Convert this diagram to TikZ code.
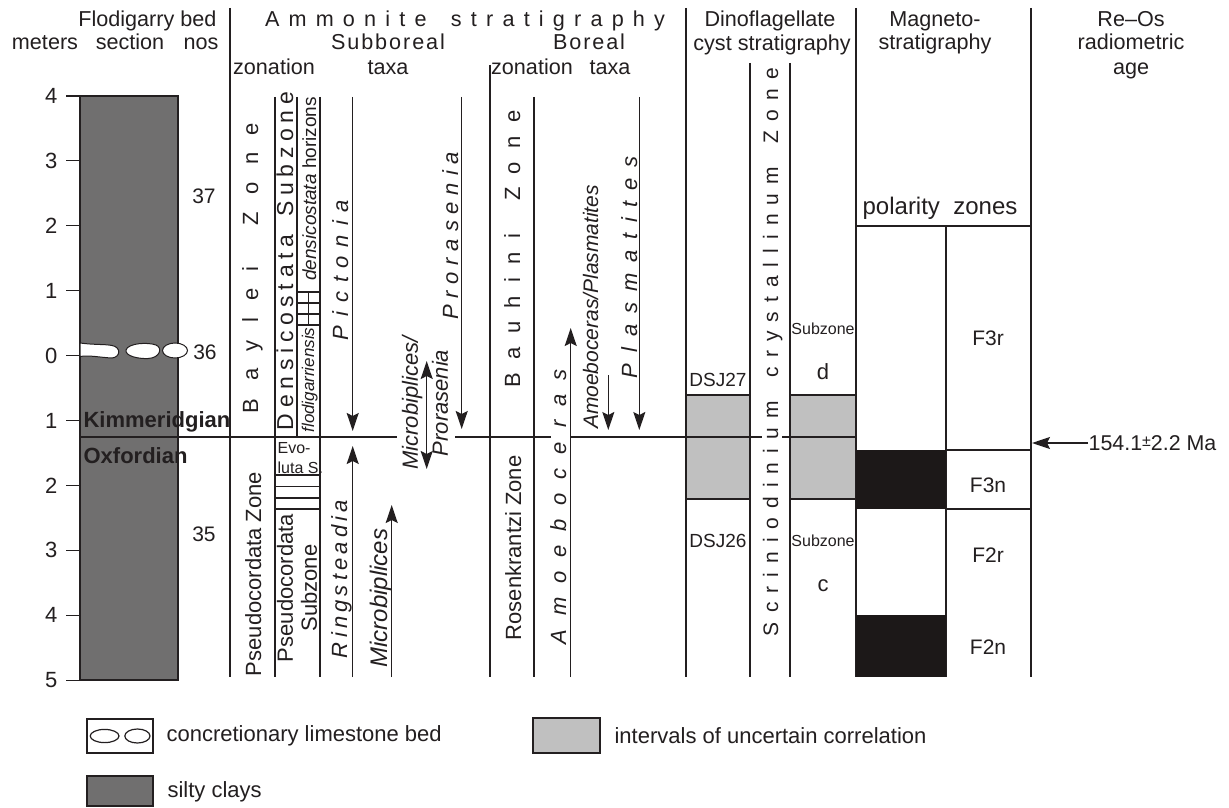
\documentclass[tikz,border=0pt]{standalone}
\usepackage{fontspec}
\setmainfont{Liberation Sans}
\usetikzlibrary{arrows.meta}
\definecolor{lineblack}{RGB}{35,31,32}
\definecolor{claygray}{RGB}{112,111,111}
\definecolor{uncertaingray}{RGB}{192,192,192}
\definecolor{polarblack}{RGB}{28,24,24}

% letters spread evenly over a given length
\ExplSyntaxOn
\NewDocumentCommand{\spaced}{m m}{\hbox~to~#1{\tl_map_inline:nn{#2}{##1\hfill}\unskip}}
\ExplSyntaxOff

\begin{document}
\begin{tikzpicture}[x=0.5pt, y=-0.5pt, line width=0.6pt, color=lineblack,
  hd/.style={inner sep=0pt, anchor=base, font=\fontsize{10.8}{13}\selectfont},
  lab/.style={inner sep=0pt, font=\fontsize{10.5}{12}\selectfont},
  zonetext/.style={inner sep=0pt, rotate=90, anchor=base, font=\fontsize{11}{13}\selectfont},
  taxontext/.style={zonetext, font=\fontsize{11}{13}\selectfont\itshape},
  taxonrange/.style={-{Stealth[length=9pt, width=6pt, inset=1.5pt]}},
  polarbox/.style={fill=polarblack},
  uncertainbox/.style={fill=uncertaingray, draw=lineblack},
  blob/.style={fill=white, draw=lineblack, line width=0.5pt}]
\useasboundingbox[fill=white] (0,0) rectangle (1229,807);

% headers
\node[hd, anchor=base east] (hdFlod) at (217,27) {Flodigarry bed};
\node[hd] (hdMeters) at (45,50) {meters};
\node[hd] (hdSection) at (130,50) {section};
\node[hd] (hdNos) at (201,50) {nos};
\node[hd] (hdAmmo) at (465,27) {\spaced{200pt}{Ammonite~stratigraphy}};
\node[hd] (hdSubboreal) at (388,50) {\spaced{57pt}{Subboreal}};
\node[hd] (hdBoreal) at (589,50) {\spaced{36pt}{Boreal}};
\node[hd] (hdSubZon) at (274,75) {zonation};
\node[hd] (hdSubTaxa) at (388,75) {taxa};
\node[hd] (hdBorZon) at (532,75) {zonation};
\node[hd] (hdBorTaxa) at (610,75) {taxa};
\node[hd] (hdDino) at (770,27) {Dinoflagellate};
\node[hd] (hdCyst) at (772,51) {cyst stratigraphy};
\node[hd] (hdMagneto) at (935,27) {Magneto-};
\node[hd] (hdMagStrat) at (935,50) {stratigraphy};
\node[hd] (hdReOs) at (1131,27) {Re--Os};
\node[hd] (hdRadio) at (1131,50) {radiometric};
\node[hd] (hdAge) at (1131,75) {age};

% section column and depth scale
\fill[claygray] (80,96) rectangle (178,680);
\draw (80,96) rectangle (178,680);
\foreach \lab [count=\i from 0] in {4,3,2,1,0,1,2,3,4,5}
  \draw (80,96+64.9*\i) -- (66,96+64.9*\i) node[lab, left=4pt, font=\fontsize{11}{13}\selectfont] (depth\i) {\lab};

% concretionary limestone bed
\filldraw[blob] (80,343) .. controls (95,345) and (104,344) .. (112,345.5)
  .. controls (121,347) and (121,357) .. (112,358) .. controls (100,357.5) and (90,355) .. (80,356.5) -- cycle;
\filldraw[blob] (126,350) .. controls (128,343) and (148,342) .. (156,345)
  .. controls (163,348) and (160,358) .. (148,358.5) .. controls (138,359) and (125,356) .. (126,350);
\filldraw[blob] (175,350.5) ellipse [x radius=6.25pt, y radius=3.75pt];

% bed numbers and stages
\node[lab] (bed37) at (204,196) {37};
\node[lab] (bed36) at (205,352) {36};
\node[lab] (bed35) at (204,534) {35};
\node[lab, anchor=west, font=\fontsize{11}{13}\selectfont\bfseries] (kimm) at (83,422) {Kimmeridgian};
\node[lab, anchor=west, font=\fontsize{11}{13}\selectfont\bfseries] (oxf) at (83,456) {Oxfordian};

% column rules
\foreach \x/\top/\bot in {230/8/677, 275/97/677, 297/97/437, 320/97/677, 490/65/677, 534/97/677,
    686/8/677, 750/63/677, 790/63/677, 856/8/677, 1031/8/677}
  \draw (\x,\top) -- (\x,\bot);
\foreach \y in {292,303,314,325} \draw (297,\y) -- (320,\y);
\draw (308.5,292) -- (308.5,325);
\foreach \y in {475,486.5,498,509} \draw (275,\y) -- (320,\y);

% dinoflagellate intervals of uncertain correlation
\draw[uncertainbox] (686,395) rectangle (750,499);
\draw[uncertainbox] (790,395) rectangle (856,499);

% magnetostratigraphy
\draw (856,226) -- (1031,226);
\draw (946,226) -- (946,677);
\fill[polarbox] (856,450) rectangle (946,509);
\fill[polarbox] (856,615) rectangle (946,677);
\draw (946,450) -- (1031,450);
\draw (946,509) -- (1031,509);

% Kimmeridgian/Oxfordian boundary
\draw (80,437) -- (397,437);
\draw (455,437) -- (551,437);
\draw (571,437) -- (762,437);
\draw (782,437) -- (857,437);

% subboreal zonation
\node[zonetext] (bayleiZone) at (258,268) {\spaced{145pt}{Baylei~Zone}};
\node[zonetext, font=\fontsize{11.5}{13}\selectfont] (densiSub) at (293,261) {\spaced{169pt}{Densicostata~Subzone}};
\node[zonetext, font=\fontsize{9.5}{11}\selectfont] (densiHor) at (316,189) {\textit{densicostata} horizons};
\node[zonetext, font=\fontsize{8.5}{10}\selectfont\itshape] (flodi) at (314,380) {flodigarriensis};
\node[lab, anchor=north west, align=left, font=\fontsize{8}{10}\selectfont] (evoluta) at (277,442) {Evo-\\luta S.};
\node[zonetext] (pseudoZone) at (261,574) {Pseudocordata Zone};
\node[zonetext, anchor=center, align=center, font=\fontsize{11}{12}\selectfont] (pseudoSub) at (297,588) {Pseudocordata\\Subzone};

% subboreal taxa
\node[taxontext] (pictonia) at (348,270) {\spaced{70pt}{Pictonia}};
\node[taxontext] (prorasenia) at (458,236) {\spaced{84pt}{Prorasenia}};
\node[taxontext] (ringsteadia) at (347,579) {\spaced{79pt}{Ringsteadia}};
\node[taxontext, font=\fontsize{12}{14}\selectfont\itshape] (microbiplices) at (387,598) {Microbiplices};
\node[taxontext, anchor=center, align=center, font=\fontsize{11}{15}\selectfont\itshape] (microPro) at (425,403) {Microbiplices/\\Prorasenia};

\coordinate (pictTop) at (352.7,97);    \coordinate (pictEnd) at (352.7,431);
\coordinate (ringBot) at (352.7,677);   \coordinate (ringEnd) at (352.7,446);
\coordinate (proTop) at (461.7,97);     \coordinate (proEnd) at (461.7,429);
\coordinate (microBot) at (391.7,677);  \coordinate (microEnd) at (391.7,505);
\coordinate (mpTop) at (426.7,361);     \coordinate (mpBot) at (426.7,469);
\draw[taxonrange] (pictTop) -- (pictEnd);
\draw[taxonrange] (ringBot) -- (ringEnd);
\draw[taxonrange] (proTop) -- (proEnd);
\draw[taxonrange] (microBot) -- (microEnd);
\draw[{Stealth[length=9pt, width=6pt, inset=1.5pt]}-{Stealth[length=9pt, width=6pt, inset=1.5pt]}] (mpTop) -- (mpBot);

% boreal zonation and taxa
\node[zonetext] (bauhiniZone) at (520,249) {\spaced{138.5pt}{Bauhini~Zone}};
\node[zonetext] (rosenZone) at (521,548) {Rosenkrantzi Zone};
\node[taxontext] (amoeboceras) at (566,507) {\spaced{137.5pt}{Amoeboceras}};
\node[taxontext, font=\fontsize{10.5}{12}\selectfont\itshape] (amoePlas) at (598,307) {Amoeboceras/Plasmatites};
\node[taxontext] (plasmatites) at (637,267) {\spaced{111pt}{Plasmatites}};

\coordinate (amoeBot) at (570.7,677);   \coordinate (amoeEnd) at (570.7,328);
\coordinate (apTop) at (608.3,375);     \coordinate (apEnd) at (608.3,430);
\coordinate (plasTop) at (639.3,97);    \coordinate (plasEnd) at (639.3,430);
\draw[taxonrange] (amoeBot) -- (amoeEnd);
\draw[taxonrange] (apTop) -- (apEnd);
\draw[taxonrange] (plasTop) -- (plasEnd);

% dinoflagellate cyst zones
\node[zonetext, font=\fontsize{10.5}{12}\selectfont] (scrinZone) at (778,352) {\spaced{284pt}{Scriniodinium~crystallinum~Zone}};
\node[lab, font=\fontsize{9.5}{11}\selectfont] (dsj27) at (718,380) {DSJ27};
\node[lab, font=\fontsize{9.5}{11}\selectfont] (dsj26) at (718,541) {DSJ26};
\node[lab, font=\fontsize{8}{9}\selectfont] (subzD) at (823,329) {Subzone};
\node[lab, font=\fontsize{11}{13}\selectfont] (zoneD) at (823,372) {d};
\node[lab, font=\fontsize{8}{9}\selectfont] (subzC) at (823,541) {Subzone};
\node[lab, font=\fontsize{11}{13}\selectfont] (zoneC) at (823,586) {c};

% polarity zones
\node[lab, font=\fontsize{12}{14}\selectfont] (polarity) at (940,208) {polarity\ \ zones};
\node[lab] (f3r) at (988,338) {F3r};
\node[lab] (f3n) at (988,485) {F3n};
\node[lab] (f2r) at (988,555) {F2r};
\node[lab] (f2n) at (988,647) {F2n};

% Re-Os age
\node[lab, anchor=west, font=\fontsize{10.7}{12}\selectfont] (ageLabel) at (1088,443)
  {154.1\raisebox{0.35ex}{\fontsize{8}{8}\selectfont ±}2.2 Ma};
\coordinate (ageTip) at (1032,443);
\draw[taxonrange] (ageLabel.west) -- (ageTip);

% legend
\draw[fill=white] (87,719) rectangle (153,753);
\draw (104.6,736) ellipse [x radius=7.2pt, y radius=3.3pt];
\draw (137.4,736) ellipse [x radius=6.3pt, y radius=3.5pt];
\node[lab, anchor=west, font=\fontsize{11}{13}\selectfont] (lgConcTxt) at (166,736) {concretionary limestone bed};
\draw[uncertainbox] (533,718) rectangle (600,753);
\node[lab, anchor=west, font=\fontsize{11}{13}\selectfont] (lgUncTxt) at (614,736) {intervals of uncertain correlation};
\draw[fill=claygray] (87,776) rectangle (153,806);
\node[lab, anchor=west, font=\fontsize{11}{13}\selectfont] (lgClayTxt) at (167,792) {silty clays};
\end{tikzpicture}
\end{document}
